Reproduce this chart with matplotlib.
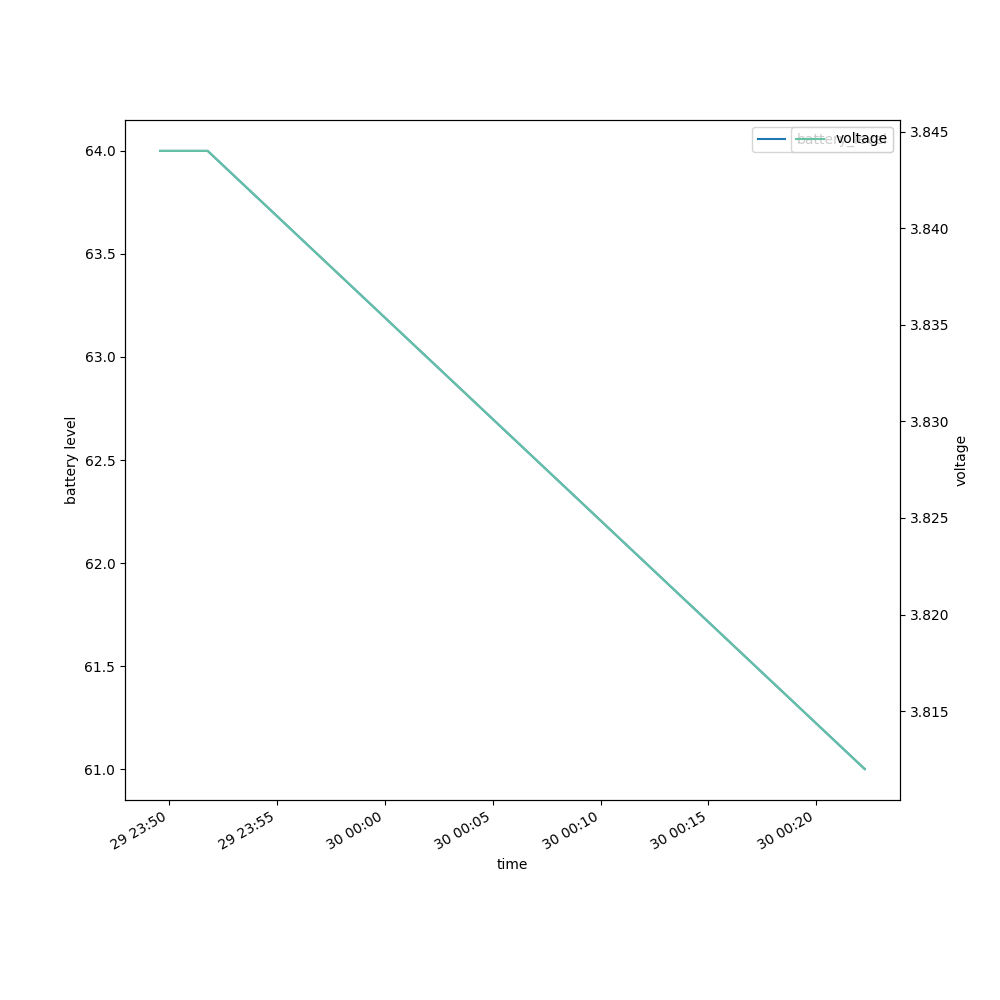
import datetime as dt
import matplotlib
matplotlib.use("Agg")
import matplotlib.pyplot as plt

# 資料
times = [dt.datetime(2023, 3, 29, 23, 49, 35),
         dt.datetime(2023, 3, 29, 23, 51, 47),
         dt.datetime(2023, 3, 30, 0, 22, 15)]
battery_level = [64, 64, 61]
voltage = [3.844, 3.844, 3.812]

fig, ax1 = plt.subplots(figsize=(10, 10), dpi=100)
ax1.plot(times, battery_level, color="tab:blue", label="battery_level")
ax1.set_xlabel("time")
ax1.set_ylabel("battery level")
ax1.legend(loc="upper right")

ax2 = ax1.twinx()
ax2.plot(times, voltage, color="#66c2a5", label="voltage")
ax2.set_ylabel("voltage")
ax2.legend(loc="upper right")

fig.autofmt_xdate()
plt.savefig("out.png", dpi=100)
